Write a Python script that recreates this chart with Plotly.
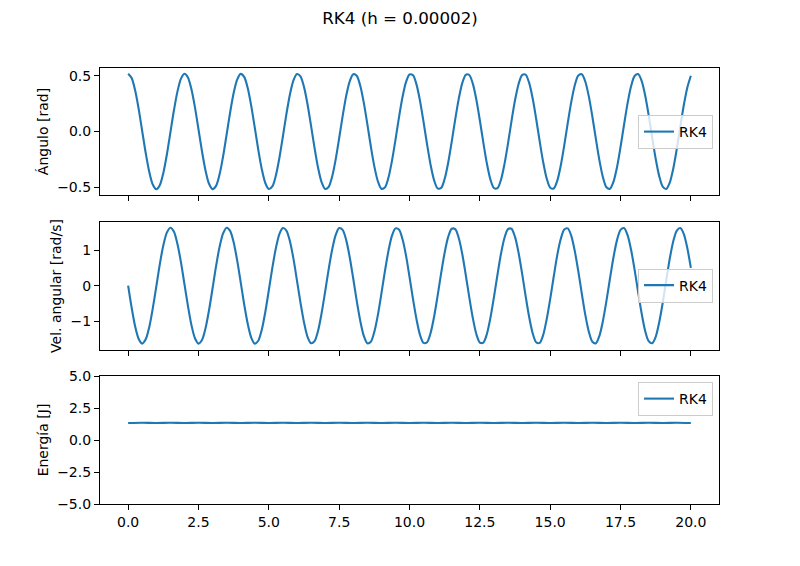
import plotly.graph_objects as go

# time grid of the RK4 run (s)
t = [
    0.0, 0.125, 0.25, 0.375, 0.5, 0.625, 0.75, 0.875,
    1.0, 1.125, 1.25, 1.375, 1.5, 1.625, 1.75, 1.875,
    2.0, 2.125, 2.25, 2.375, 2.5, 2.625, 2.75, 2.875,
    3.0, 3.125, 3.25, 3.375, 3.5, 3.625, 3.75, 3.875,
    4.0, 4.125, 4.25, 4.375, 4.5, 4.625, 4.75, 4.875,
    5.0, 5.125, 5.25, 5.375, 5.5, 5.625, 5.75, 5.875,
    6.0, 6.125, 6.25, 6.375, 6.5, 6.625, 6.75, 6.875,
    7.0, 7.125, 7.25, 7.375, 7.5, 7.625, 7.75, 7.875,
    8.0, 8.125, 8.25, 8.375, 8.5, 8.625, 8.75, 8.875,
    9.0, 9.125, 9.25, 9.375, 9.5, 9.625, 9.75, 9.875,
    10.0, 10.125, 10.25, 10.375, 10.5, 10.625, 10.75, 10.875,
    11.0, 11.125, 11.25, 11.375, 11.5, 11.625, 11.75, 11.875,
    12.0, 12.125, 12.25, 12.375, 12.5, 12.625, 12.75, 12.875,
    13.0, 13.125, 13.25, 13.375, 13.5, 13.625, 13.75, 13.875,
    14.0, 14.125, 14.25, 14.375, 14.5, 14.625, 14.75, 14.875,
    15.0, 15.125, 15.25, 15.375, 15.5, 15.625, 15.75, 15.875,
    16.0, 16.125, 16.25, 16.375, 16.5, 16.625, 16.75, 16.875,
    17.0, 17.125, 17.25, 17.375, 17.5, 17.625, 17.75, 17.875,
    18.0, 18.125, 18.25, 18.375, 18.5, 18.625, 18.75, 18.875,
    19.0, 19.125, 19.25, 19.375, 19.5, 19.625, 19.75, 19.875,
    20.0,
]

# angle (rad)
angulo = [
    0.520, 0.481, 0.369, 0.202, 0.004, -0.194, -0.363, -0.478,
    -0.520, -0.484, -0.375, -0.209, -0.012, 0.187, 0.357, 0.474,
    0.520, 0.487, 0.380, 0.217, 0.020, -0.179, -0.351, -0.471,
    -0.519, -0.490, -0.386, -0.224, -0.028, 0.171, 0.346, 0.467,
    0.519, 0.492, 0.391, 0.231, 0.037, -0.164, -0.339, -0.464,
    -0.518, -0.495, -0.397, -0.239, -0.045, 0.156, 0.333, 0.460,
    0.518, 0.497, 0.402, 0.246, 0.053, -0.148, -0.327, -0.456,
    -0.517, -0.500, -0.407, -0.253, -0.061, 0.140, 0.321, 0.452,
    0.516, 0.502, 0.412, 0.260, 0.069, -0.133, -0.314, -0.448,
    -0.515, -0.504, -0.417, -0.267, -0.077, 0.125, 0.308, 0.444,
    0.514, 0.506, 0.422, 0.274, 0.085, -0.117, -0.301, -0.440,
    -0.512, -0.508, -0.426, -0.281, -0.093, 0.109, 0.294, 0.436,
    0.511, 0.509, 0.431, 0.288, 0.101, -0.101, -0.288, -0.431,
    -0.509, -0.511, -0.436, -0.294, -0.109, 0.093, 0.281, 0.426,
    0.508, 0.512, 0.440, 0.301, 0.117, -0.085, -0.274, -0.422,
    -0.506, -0.514, -0.444, -0.308, -0.125, 0.077, 0.267, 0.417,
    0.504, 0.515, 0.448, 0.314, 0.133, -0.069, -0.260, -0.412,
    -0.502, -0.516, -0.452, -0.321, -0.140, 0.061, 0.253, 0.407,
    0.500, 0.517, 0.456, 0.327, 0.148, -0.053, -0.246, -0.402,
    -0.497, -0.518, -0.460, -0.333, -0.156, 0.045, 0.239, 0.397,
    0.502,
]

# angular velocity (rad/s)
vel = [
    0.00, -0.62, -1.15, -1.50, -1.63, -1.51, -1.17, -0.64,
    -0.03, 0.60, 1.13, 1.49, 1.63, 1.52, 1.18, 0.67,
    0.05, -0.57, -1.11, -1.48, -1.63, -1.53, -1.20, -0.69,
    -0.08, 0.55, 1.09, 1.47, 1.63, 1.54, 1.22, 0.71,
    0.10, -0.53, -1.07, -1.46, -1.63, -1.55, -1.24, -0.74,
    -0.13, 0.50, 1.05, 1.45, 1.62, 1.55, 1.25, 0.76,
    0.15, -0.48, -1.03, -1.44, -1.62, -1.56, -1.27, -0.78,
    -0.18, 0.45, 1.01, 1.42, 1.62, 1.57, 1.28, 0.80,
    0.20, -0.43, -0.99, -1.41, -1.62, -1.58, -1.30, -0.83,
    -0.23, 0.40, 0.97, 1.40, 1.61, 1.58, 1.31, 0.85,
    0.25, -0.38, -0.95, -1.39, -1.61, -1.59, -1.33, -0.87,
    -0.28, 0.35, 0.93, 1.37, 1.60, 1.59, 1.34, 0.89,
    0.30, -0.33, -0.91, -1.36, -1.60, -1.60, -1.36, -0.91,
    -0.33, 0.30, 0.89, 1.34, 1.59, 1.60, 1.37, 0.93,
    0.35, -0.28, -0.87, -1.33, -1.59, -1.61, -1.39, -0.95,
    -0.38, 0.25, 0.85, 1.31, 1.58, 1.61, 1.40, 0.97,
    0.40, -0.23, -0.83, -1.30, -1.58, -1.62, -1.41, -0.99,
    -0.43, 0.20, 0.80, 1.28, 1.57, 1.62, 1.42, 1.01,
    0.45, -0.18, -0.78, -1.27, -1.56, -1.62, -1.44, -1.03,
    -0.48, 0.15, 0.76, 1.25, 1.55, 1.62, 1.45, 1.05,
    0.50,
]

# energy (J), coarser sampling is enough for an almost flat line
t_e = [
    0.0, 0.5, 1.0, 1.5, 2.0, 2.5, 3.0, 3.5, 4.0, 4.5,
    5.0, 5.5, 6.0, 6.5, 7.0, 7.5, 8.0, 8.5, 9.0, 9.5,
    10.0, 10.5, 11.0, 11.5, 12.0, 12.5, 13.0, 13.5, 14.0, 14.5,
    15.0, 15.5, 16.0, 16.5, 17.0, 17.5, 18.0, 18.5, 19.0, 19.5,
    20.0,
]
energia = [
    1.33, 1.35, 1.33, 1.35, 1.33, 1.35, 1.33, 1.35, 1.33, 1.35,
    1.33, 1.35, 1.33, 1.35, 1.33, 1.35, 1.33, 1.35, 1.33, 1.35,
    1.33, 1.35, 1.33, 1.35, 1.33, 1.35, 1.33, 1.35, 1.33, 1.35,
    1.33, 1.35, 1.33, 1.35, 1.33, 1.35, 1.33, 1.35, 1.33, 1.35,
    1.33,
]

BLUE = '#1f77b4'
FONT = 'DejaVu Sans'
W, H = 800, 566

def ydom(top_px, bottom_px):
    return [1 - bottom_px / H, 1 - top_px / H]

line = dict(color=BLUE, width=2.1, shape='spline', smoothing=0.8)

fig = go.Figure()
fig.add_trace(go.Scatter(x=t, y=angulo, mode='lines', name='RK4', line=line,
                         xaxis='x', yaxis='y', legend='legend'))
fig.add_trace(go.Scatter(x=t, y=vel, mode='lines', name='RK4', line=line,
                         xaxis='x2', yaxis='y2', legend='legend2'))
fig.add_trace(go.Scatter(x=t_e, y=energia, mode='lines', name='RK4', line=line,
                         xaxis='x3', yaxis='y3', legend='legend3'))

xdom = [100 / W, 719 / W]
frame = dict(showline=True, linecolor='black', linewidth=1.1, mirror=True,
             showgrid=False, zeroline=False, ticks='outside', ticklen=5,
             tickwidth=1.1, tickcolor='black', automargin=False,
             tickfont=dict(family=FONT, size=14, color='black'))
xcommon = dict(frame, range=[-1, 21], tickvals=[0, 2.5, 5, 7.5, 10, 12.5, 15, 17.5, 20],
               domain=xdom)
ytitle = lambda s: dict(text=s, font=dict(family=FONT, size=14, color='black'), standoff=5)

legend_box = dict(bgcolor='rgba(255,255,255,0.8)', bordercolor='#cccccc', borderwidth=1,
                  font=dict(family=FONT, size=14, color='black'), xanchor='right',
                  x=713 / W, itemwidth=30)

fig.update_layout(
    width=W, height=H, autosize=False,
    margin=dict(l=0, r=0, t=0, b=0, pad=0, autoexpand=False),
    paper_bgcolor='white', plot_bgcolor='white',
    showlegend=True,
    title=dict(text='RK4 (h = 0.00002)', x=0.5, xanchor='center', y=1 - 18 / H,
               yanchor='middle', font=dict(family=FONT, size=16.7, color='black')),
    xaxis=dict(xcommon, anchor='y', showticklabels=False),
    xaxis2=dict(xcommon, anchor='y2', showticklabels=False),
    xaxis3=dict(xcommon, anchor='y3', tickformat='.1f'),
    yaxis=dict(frame, domain=ydom(68, 195), anchor='x', range=[-0.572, 0.572],
               tickvals=[-0.5, 0, 0.5], tickformat='.1f', title=ytitle('Ángulo [rad]')),
    yaxis2=dict(frame, domain=ydom(222, 350), anchor='x2', range=[-1.81, 1.79],
                tickvals=[-1, 0, 1], title=ytitle('Vel. angular [rad/s]')),
    yaxis3=dict(frame, domain=ydom(376, 504), anchor='x3', range=[-5, 5],
                tickvals=[-5, -2.5, 0, 2.5, 5], tickformat='.1f', title=ytitle('Energía [J]')),
    legend=dict(legend_box, y=1 - 132 / H, yanchor='middle'),
    legend2=dict(legend_box, y=1 - 285.5 / H, yanchor='middle'),
    legend3=dict(legend_box, y=1 - 382 / H, yanchor='top'),
)

# drop the default 8px page margin so the figure sits at the window corner
fig.write_html("out.html", config={'displayModeBar': False},
               post_script="document.body.style.margin='0';")
